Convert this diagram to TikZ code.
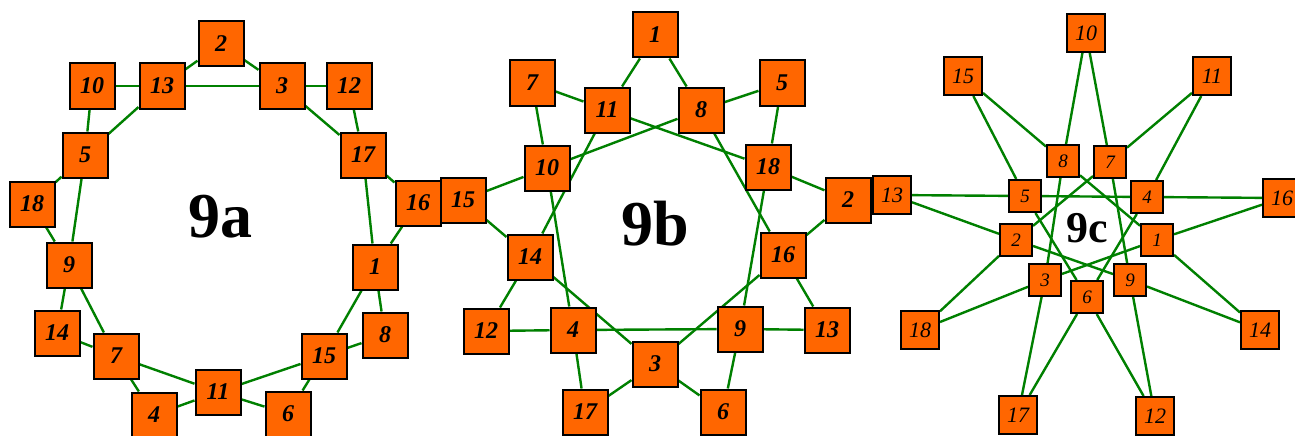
\documentclass[tikz,border=0pt]{standalone}
\usepackage{fontspec}
\setmainfont{Liberation Serif}
\usetikzlibrary{backgrounds}

\definecolor{boxorange}{RGB}{255,102,0}
\definecolor{linkgreen}{RGB}{0,128,0}

\begin{document}
\begin{tikzpicture}[x=1pt, y=-1pt,
  cell/.style={draw=black, line width=2pt, fill=boxorange,
    minimum size=45pt, inner sep=0pt,
    font=\fontsize{24}{24}\selectfont\bfseries\itshape},
  cellout/.style={cell, minimum size=38pt,
    font=\fontsize{22}{22}\selectfont\itshape},
  cellin/.style={cell, minimum size=32pt,
    font=\fontsize{19}{19}\selectfont\itshape},
  link/.style={draw=linkgreen, line width=2.4pt},
  tag/.style={font=\fontsize{64}{64}\selectfont\bfseries}]
  \useasboundingbox (0,0) rectangle (1295,436);

  % Ring 9a
  \foreach \n/\x/\y in {1/375/267, 2/221/44, 3/282/86, 4/154/415,
      5/85/155, 6/288/414, 7/116/356, 8/385/335, 9/69/265,
      10/92/86, 11/218/392, 12/349/86, 13/162/86, 14/57/333,
      15/324/356, 16/418/203, 17/363/155, 18/32/204}
    \node[cell] (a\n) at (\x,\y) {\n};
  \node[tag] (ta) at (220,217) {9a};

  % Star 9b
  \foreach \n/\x/\y in {1/655/35, 2/848/200, 3/655/364, 4/573/330,
      5/782/83, 6/723/412, 7/532/83, 8/701/110, 9/740/329,
      10/547/168, 11/607/110, 12/486/331, 13/827/330, 14/530/257,
      15/463/200, 16/783/255, 17/585/412, 18/768/167}
    \node[cell] (b\n) at (\x,\y) {\n};
  \node[tag] (tb) at (655,224) {9b};

  % Star 9c: inner ring, then outer points
  \foreach \n/\x/\y in {1/1157/240, 2/1016/240, 3/1045/280,
      4/1147/197, 5/1025/196, 6/1087/297, 7/1110/162,
      8/1063/161, 9/1130/280}
    \node[cellin] (c\n) at (\x,\y) {\n};
  \foreach \n/\x/\y in {10/1086/33, 11/1212/76, 12/1155/416,
      13/892/195, 14/1260/330, 15/963/76, 16/1282/198,
      17/1018/415, 18/920/330}
    \node[cellout] (c\n) at (\x,\y) {\n};
  \node[tag, font=\fontsize{44}{44}\selectfont\bfseries] (tc)
    at (1087,228) {9c};

  \begin{scope}[on background layer]
    \fill[white] (0,0) rectangle (1295,436);
    \foreach \u/\v in {2/13, 2/3, 10/13, 13/3, 3/12, 13/5, 10/5,
        3/17, 12/17, 5/18, 5/9, 17/16, 17/1, 18/9, 16/1, 9/14,
        9/7, 1/8, 1/15, 14/7, 8/15, 7/11, 7/4, 15/11, 15/6,
        11/4, 11/6}
      \draw[link] (a\u) -- (a\v);
    \foreach \u/\v in {1/11, 1/8, 7/11, 7/10, 5/8, 5/18, 11/18,
        8/10, 11/14, 8/16, 15/10, 15/14, 18/2, 2/16, 10/4, 18/9,
        14/12, 14/3, 16/13, 16/3, 12/4, 4/9, 9/13, 4/17, 3/17,
        3/6, 9/6}
      \draw[link] (b\u) -- (b\v);
    \foreach \u/\v in {10/8, 10/7, 15/8, 15/5, 11/7, 11/4, 16/4,
        16/1, 14/1, 14/9, 12/9, 12/6, 17/6, 17/3, 18/3, 18/2,
        13/2, 13/5, 8/1, 1/3, 3/8, 7/2, 7/9, 2/9, 5/4, 4/6, 5/6}
      \draw[link] (c\u) -- (c\v);
  \end{scope}
\end{tikzpicture}
\end{document}
